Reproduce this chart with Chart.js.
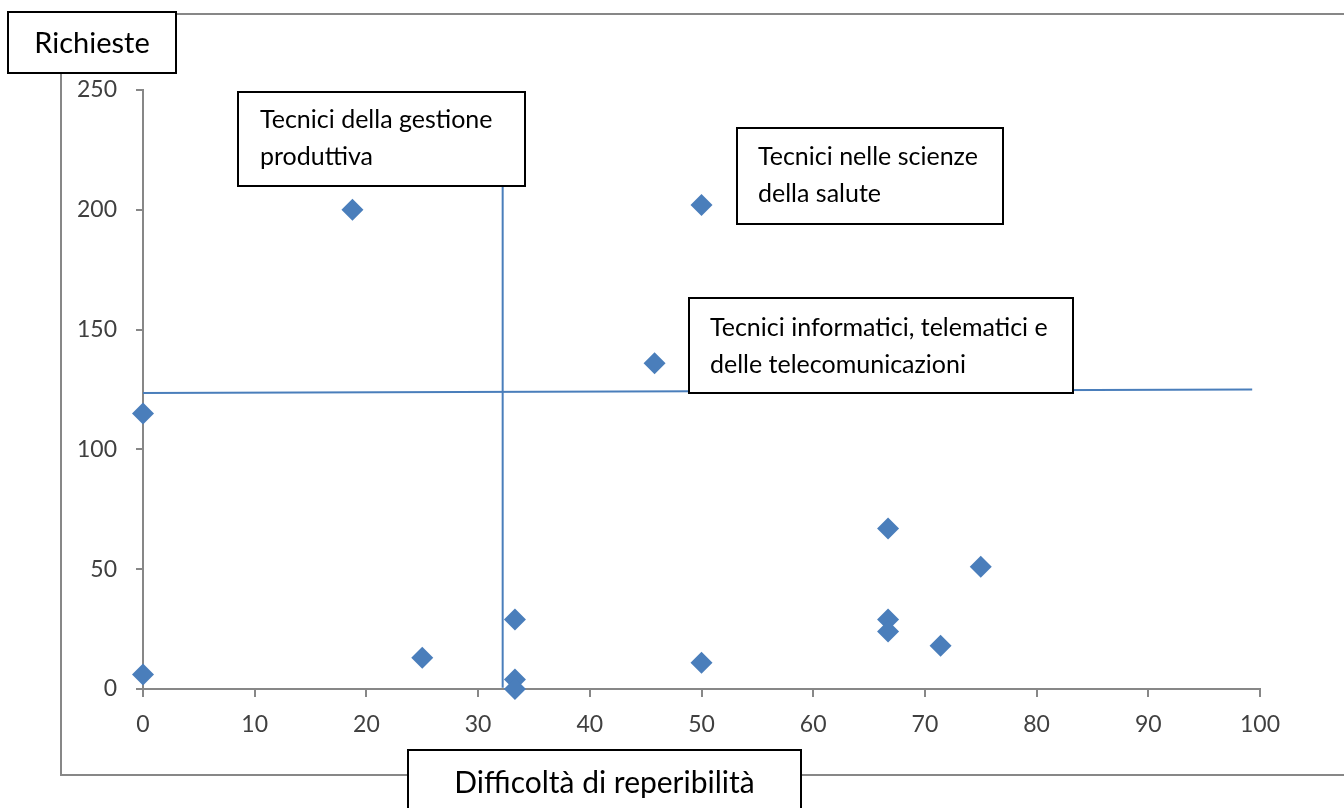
<!DOCTYPE html>
<html>
<head>
<meta charset="utf-8">
<script src="https://cdn.jsdelivr.net/npm/chart.js@4.4.1/dist/chart.umd.min.js"></script>
<style>
  body { margin: 0; background: #ffffff; }
  #wrap { position: relative; width: 1344px; height: 808px; }
</style>
</head>
<body>
<div id="wrap"><canvas id="scatter-chart"></canvas></div>
<script>
// Data
const difficolta = [0, 0, 18.75, 25, 33.3, 33.3, 33.3, 45.8, 50, 50, 66.7, 66.7, 66.7, 71.4, 75];
const richieste = [115, 6, 200, 13, 29, 4, 0, 136, 202, 11, 67, 29, 24, 18, 51];

// Reference lines (mean of each axis)
const lineaOrizzX = [0, 99.3];
const lineaOrizzY = [123.5, 125];
const lineaVertX = [32.2, 32.2];
const lineaVertY = [0.5, 245];

const xTicks = [0, 10, 20, 30, 40, 50, 60, 70, 80, 90, 100];
const yTicks = [0, 50, 100, 150, 200, 250];

const blu = '#4a7ebb';
const FONT = "Lato, 'Open Sans', sans-serif";

const toPoints = (xs, ys) => xs.map((x, i) => ({ x: x, y: ys[i] }));

// Text boxes drawn on top of the chart
const boxes = [
  { x: 8, y: 12, w: 168, h: 61, lines: ['Richieste'], size: 29, align: 'center', cy: 44 },
  { x: 238, y: 92, w: 287, h: 94, lines: ['Tecnici della gestione', 'produttiva'], size: 25, align: 'left', tx: 260, ty: [120, 157] },
  { x: 737, y: 128, w: 266, h: 96, lines: ['Tecnici nelle scienze', 'della salute'], size: 25, align: 'left', tx: 758, ty: [157, 194] },
  { x: 689, y: 298, w: 384, h: 95, lines: ['Tecnici informatici, telematici e', 'delle telecomunicazioni'], size: 25, align: 'left', tx: 710, ty: [328, 365] },
  { x: 408, y: 750, w: 393, h: 70, lines: ['Difficoltà di reperibilità'], size: 30, align: 'center', cy: 783 }
];

const framePlugin = {
  id: 'frame',
  beforeDraw(chart) {
    const ctx = chart.ctx;
    ctx.save();
    ctx.strokeStyle = '#878787';
    ctx.lineWidth = 2;
    ctx.beginPath();
    ctx.moveTo(1350, 14);
    ctx.lineTo(61, 14);
    ctx.lineTo(61, 775);
    ctx.lineTo(1350, 775);
    ctx.stroke();
    ctx.restore();
  },
  afterDraw(chart) {
    const ctx = chart.ctx;
    ctx.save();
    boxes.forEach((b) => {
      ctx.fillStyle = '#ffffff';
      ctx.fillRect(b.x, b.y, b.w, b.h);
      ctx.strokeStyle = '#000000';
      ctx.lineWidth = 2;
      ctx.strokeRect(b.x, b.y, b.w, b.h);
      ctx.fillStyle = '#000000';
      ctx.font = b.size + 'px ' + FONT;
      ctx.textBaseline = 'middle';
      if (b.align === 'center') {
        ctx.textAlign = 'center';
        ctx.fillText(b.lines[0], b.x + b.w / 2, b.cy || b.y + b.h / 2);
      } else {
        ctx.textAlign = 'left';
        b.lines.forEach((t, i) => ctx.fillText(t, b.tx, b.ty[i]));
      }
    });
    ctx.restore();
  }
};

const ctx = document.getElementById('scatter-chart').getContext('2d');
window.scatterChart = new Chart(ctx, {
  type: 'scatter',
  data: {
    datasets: [
      {
        label: 'Richieste',
        data: toPoints(difficolta, richieste),
        pointStyle: 'rectRot',
        pointRadius: 11,
        pointHoverRadius: 11,
        backgroundColor: blu,
        borderColor: blu,
        borderWidth: 0,
        clip: false,
        order: 0
      },
      {
        type: 'line',
        label: 'Media richieste',
        data: toPoints(lineaOrizzX, lineaOrizzY),
        borderColor: blu,
        borderWidth: 2,
        pointRadius: 0,
        fill: false,
        clip: false,
        order: 1
      },
      {
        type: 'line',
        label: 'Media difficoltà',
        data: toPoints(lineaVertX, lineaVertY),
        borderColor: blu,
        borderWidth: 2,
        pointRadius: 0,
        fill: false,
        clip: false,
        order: 1
      }
    ]
  },
  options: {
    responsive: true,
    maintainAspectRatio: false,
    animation: false,
    layout: {
      padding: { left: 61, right: 84, top: 90, bottom: 59 }
    },
    scales: {
      x: {
        type: 'linear',
        min: 0,
        max: 100,
        afterFit(scale) { scale.height = 60; },
        afterBuildTicks(scale) { scale.ticks = xTicks.map((v) => ({ value: v })); },
        border: { display: true, color: '#878787', width: 2 },
        grid: { drawOnChartArea: false, drawTicks: true, tickLength: 8, color: '#878787', lineWidth: 2 },
        ticks: {
          padding: 14,
          color: '#404040',
          font: { size: 23, family: FONT }
        }
      },
      y: {
        type: 'linear',
        min: 0,
        max: 250,
        afterFit(scale) { scale.width = 82; },
        afterBuildTicks(scale) { scale.ticks = yTicks.map((v) => ({ value: v })); },
        border: { display: true, color: '#878787', width: 2 },
        grid: { drawOnChartArea: false, drawTicks: true, tickLength: 7, color: '#878787', lineWidth: 2 },
        ticks: {
          padding: 19,
          color: '#404040',
          font: { size: 23, family: FONT }
        }
      }
    },
    plugins: {
      legend: { display: false },
      tooltip: { enabled: false }
    }
  },
  plugins: [framePlugin]
});
</script>
</body>
</html>
